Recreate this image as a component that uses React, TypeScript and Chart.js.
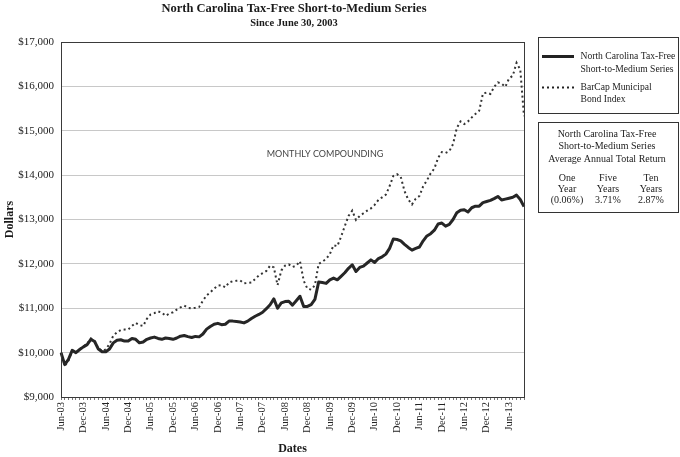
import React, { useEffect, useRef } from "react";
import { Chart, registerables } from "chart.js";

Chart.register(...registerables);

const xTickLabels = [
  "Jun-03", "Dec-03", "Jun-04", "Dec-04", "Jun-05", "Dec-05", "Jun-06", "Dec-06",
  "Jun-07", "Dec-07", "Jun-08", "Dec-08", "Jun-09", "Dec-09", "Jun-10", "Dec-10",
  "Jun-11", "Dec-11", "Jun-12", "Dec-12", "Jun-13",
];

const fundValues = [
  10000, 9730, 9850, 10050, 10000, 10070, 10130, 10180, 10300, 10250,
  10080, 10020, 10020, 10080, 10220, 10280, 10290, 10260, 10260, 10320,
  10300, 10220, 10240, 10300, 10330, 10350, 10320, 10300, 10330, 10320,
  10300, 10330, 10370, 10385, 10360, 10340, 10365, 10355, 10420, 10530,
  10590, 10640, 10660, 10630, 10640, 10710, 10710, 10700, 10690, 10670,
  10710, 10770, 10820, 10860, 10910, 10990, 11080, 11210, 11000, 11120,
  11150, 11160, 11070, 11170, 11270, 11040, 11040, 11080, 11200, 11590,
  11580, 11560, 11640, 11680, 11640, 11720, 11800, 11900, 11980, 11830,
  11920, 11950, 12020, 12090, 12030, 12120, 12160, 12220, 12350, 12560,
  12550, 12520, 12440, 12370, 12310, 12350, 12380, 12520, 12630, 12680,
  12760, 12900, 12920, 12850, 12890, 13000, 13150, 13210, 13220, 13170,
  13265, 13300, 13300, 13380, 13405, 13430, 13470, 13520, 13440, 13460,
  13480, 13500, 13550, 13450, 13290,
];

const indexValues = [
  10000, 9700, 9820, 10040, 10000, 10080, 10140, 10200, 10320, 10260,
  10100, 10040, 10070, 10200, 10380, 10460, 10510, 10520, 10520, 10600,
  10670, 10620, 10600, 10760, 10860, 10890, 10930, 10900, 10830, 10880,
  10910, 10970, 11020, 11060, 11010, 11000, 11010, 11030, 11170, 11290,
  11360, 11440, 11510, 11520, 11470, 11580, 11610, 11620, 11625, 11560,
  11570, 11580, 11660, 11740, 11790, 11840, 11960, 11920, 11520, 11850,
  11960, 11990, 11930, 11960, 12060, 11620, 11440, 11420, 11520, 12000,
  12050, 12110, 12220, 12420, 12400, 12610, 12850, 13080, 13200, 12990,
  13080, 13140, 13200, 13250, 13330, 13440, 13500, 13560, 13750, 13980,
  14020, 13960, 13640, 13450, 13340, 13470, 13530, 13750, 13880, 14040,
  14150, 14390, 14520, 14500, 14540, 14700, 15060, 15210, 15150, 15210,
  15300, 15380, 15450, 15840, 15860, 15830, 15990, 16090, 16060, 15990,
  16180, 16240, 16530, 16380, 15330,
];

const labelEvery = 6;
const categories = fundValues.map((_, i) =>
  i % labelEvery === 0 ? xTickLabels[i / labelEvery] || "" : ""
);

const fundLabel = ["North Carolina Tax-Free", "Short-to-Medium Series"];
const indexLabel = ["BarCap Municipal", "Bond Index"];
const returnTitle = ["North Carolina Tax-Free", "Short-to-Medium Series", "Average Annual Total Return"];
const returnPeriods = [["One", "Year"], ["Five", "Years"], ["Ten", "Years"]];
const returnValues = ["(0.06%)", "3.71%", "2.87%"];

const SERIF = "'Liberation Serif', 'Times New Roman', serif";

const overlayPlugin = {
  id: "overlay",
  afterDraw(chart: any) {
    const ctx = chart.ctx;
    const ca = chart.chartArea;
    ctx.save();
    // plot border
    ctx.strokeStyle = "#3a3a3a";
    ctx.lineWidth = 1;
    ctx.strokeRect(Math.round(ca.left) + 0.5, Math.round(ca.top) + 0.5, Math.round(ca.right - ca.left), Math.round(ca.bottom - ca.top));

    ctx.fillStyle = "#1a1a1a";
    ctx.textAlign = "center";
    ctx.textBaseline = "middle";
    ctx.font = `bold 12.5px ${SERIF}`;
    ctx.fillText("North Carolina Tax-Free Short-to-Medium Series", 294, 8.5);
    ctx.font = `bold 10.5px ${SERIF}`;
    ctx.fillText("Since June 30, 2003", 294, 23.5);

    // axis titles
    ctx.font = `bold 12px ${SERIF}`;
    ctx.fillText("Dates", (ca.left + ca.right) / 2, 449);
    ctx.save();
    ctx.translate(10, (ca.top + ca.bottom) / 2);
    ctx.rotate(-Math.PI / 2);
    ctx.fillText("Dollars", 0, 0);
    ctx.restore();

    // annotation
    ctx.font = "9px Lato, 'Open Sans', sans-serif";
    ctx.fillStyle = "#444";
    ctx.fillText("MONTHLY COMPOUNDING", 325, 154);

    // legend box
    ctx.strokeStyle = "#333";
    ctx.lineWidth = 1;
    ctx.strokeRect(538.5, 37.5, 140, 76);
    ctx.strokeStyle = "#222";
    ctx.lineWidth = 3;
    ctx.beginPath();
    ctx.moveTo(542, 56.5);
    ctx.lineTo(574, 56.5);
    ctx.stroke();
    ctx.lineWidth = 2;
    ctx.setLineDash([2, 3]);
    ctx.beginPath();
    ctx.moveTo(542, 87.5);
    ctx.lineTo(574, 87.5);
    ctx.stroke();
    ctx.setLineDash([]);
    ctx.fillStyle = "#222";
    ctx.font = `9.6px ${SERIF}`;
    ctx.textAlign = "left";
    ctx.fillText(fundLabel[0], 580.5, 56.5);
    ctx.fillText(fundLabel[1], 580.5, 69);
    ctx.fillText(indexLabel[0], 580.5, 87.5);
    ctx.fillText(indexLabel[1], 580.5, 99.5);

    // return box
    ctx.strokeStyle = "#333";
    ctx.lineWidth = 1;
    ctx.strokeRect(538.5, 122.5, 140, 90);
    ctx.font = `10px ${SERIF}`;
    ctx.textAlign = "center";
    ctx.fillText(returnTitle[0], 607, 134);
    ctx.fillText(returnTitle[1], 607, 146.5);
    ctx.fillText(returnTitle[2], 607, 159);
    const cols = [567, 608, 651];
    cols.forEach((cx, k) => {
      ctx.fillText(returnPeriods[k][0], cx, 178);
      ctx.fillText(returnPeriods[k][1], cx, 189.5);
      ctx.fillText(returnValues[k], cx, 200);
    });
    ctx.restore();
  },
};

export default function App() {
  const ref = useRef<HTMLCanvasElement | null>(null);
  useEffect(() => {
    document.body.style.margin = "0";
    const canvas = ref.current;
    if (!canvas) return;
    const chart = new Chart(canvas, {
      type: "line",
      data: {
        labels: categories,
        datasets: [
          {
            label: "North Carolina Tax-Free Short-to-Medium Series",
            data: fundValues,
            borderColor: "#262626",
            borderWidth: 3,
            pointRadius: 0,
            tension: 0,
            borderJoinStyle: "round",
          },
          {
            label: "BarCap Municipal Bond Index",
            data: indexValues,
            borderColor: "#333",
            borderWidth: 2,
            borderDash: [2, 3],
            pointRadius: 0,
            tension: 0,
          },
        ],
      },
      options: {
        responsive: false,
        animation: false,
        layout: { padding: { top: 42, right: 156, left: 0, bottom: 0 } },
        plugins: {
          legend: { display: false },
          title: { display: false },
          tooltip: { enabled: false },
        },
        scales: {
          x: {
            type: "category",
            offset: false,
            afterFit(scale: any) {
              scale.height = 60;
            },
            grid: {
              display: true,
              drawOnChartArea: false,
              drawTicks: true,
              tickLength: 3,
              color: "#777",
            },
            border: { display: true, color: "#333", width: 1 },
            ticks: {
              autoSkip: false,
              maxRotation: 90,
              minRotation: 90,
              padding: 2,
              color: "#222",
              font: { family: SERIF, size: 10.5 },
            },
          },
          y: {
            min: 9000,
            max: 17000,
            afterFit(scale: any) {
              scale.width = 61;
            },
            grid: { color: "#c8c8c8", drawTicks: false },
            border: { display: true, color: "#222", width: 1 },
            ticks: {
              stepSize: 1000,
              padding: 7,
              color: "#222",
              font: { family: SERIF, size: 11 },
              callback: (v: any) => "$" + Number(v).toLocaleString("en-US"),
            },
          },
        },
      },
      plugins: [overlayPlugin],
    });
    return () => chart.destroy();
  }, []);
  return (
    <div style={{ width: 680, height: 457 }}>
      <canvas ref={ref} width={680} height={457} style={{ display: "block" }} />
    </div>
  );
}
